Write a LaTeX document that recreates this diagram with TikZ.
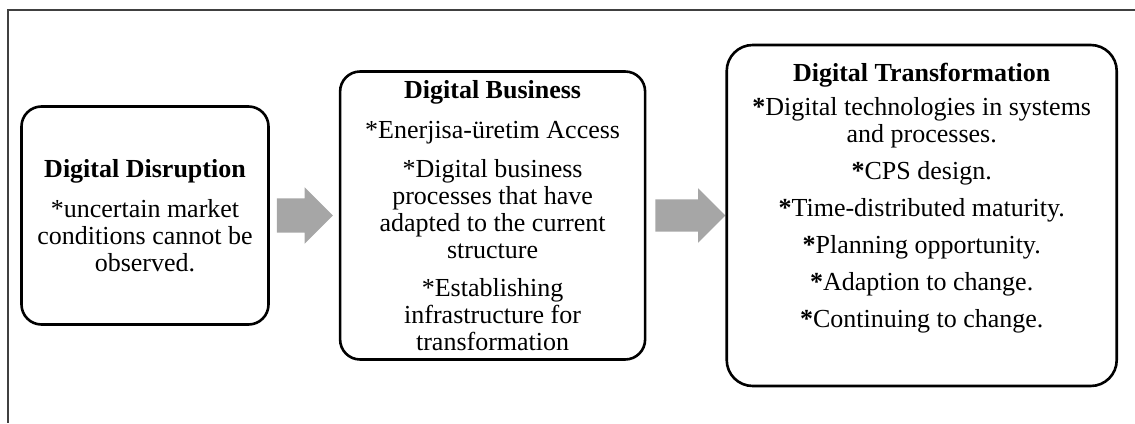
\documentclass[tikz,border=0pt]{standalone}
\usepackage{fontspec}
\setmainfont{Liberation Serif}
\usepackage{xcolor}
\definecolor{arrowgray}{HTML}{A6A6A6}
\definecolor{framegray}{HTML}{404040}
\usetikzlibrary{shapes.arrows, positioning}

\begin{document}
\begin{tikzpicture}[x=1pt, y=-1pt, font=\fontsize{26}{27}\selectfont]
  \useasboundingbox (0,0) rectangle (1135,423);

  % outer frame (top and left only)
  \draw[line width=1.2pt, framegray] (1135,10) -- (8,10) -- (8,423);

  \node[draw, line width=2.6pt, rounded corners=20pt,
        minimum width=247pt, minimum height=218pt, align=center]
        (disrupt) at (145,215.5)
        {\textbf{Digital Disruption}\\[13pt]
         *uncertain market\\ conditions cannot be\\ observed.};

  \node[single arrow, fill=arrowgray, inner xsep=0pt, inner ysep=17pt,
        outer sep=0pt, minimum height=56pt,
        single arrow head extend=11pt,
        right=7pt of disrupt] (arr1) {};

  \node[draw, line width=2.6pt, rounded corners=20pt,
        minimum width=305pt, minimum height=288pt, align=center,
        right=6pt of arr1] (business)
        {\textbf{Digital Business}\\[13pt]
         *Enerjisa-üretim Access\\[12pt]
         *Digital business\\ processes that have\\
         adapted to the current\\ structure\\[11pt]
         *Establishing\\ infrastructure for\\ transformation};

  \node[single arrow, fill=arrowgray, inner xsep=0pt, inner ysep=16pt,
        outer sep=0pt, minimum height=70pt,
        single arrow head extend=11pt,
        right=9pt of business] (arr2) {};

  \node[draw, line width=2.6pt, rounded corners=26pt,
        minimum width=390pt, minimum height=341pt, align=center,
        right=0pt of arr2] (transform)
        {\textbf{Digital Transformation}\\[7pt]
         \textbf{*}Digital technologies in systems\\ and processes.\\[10pt]
         \textbf{*}CPS design.\\[10pt]
         \textbf{*}Time-distributed maturity.\\[10pt]
         \textbf{*}Planning opportunity.\\[10pt]
         \textbf{*}Adaption to change.\\[10pt]
         \textbf{*}Continuing to change.\\[14pt]
         \mbox{}};
\end{tikzpicture}
\end{document}
